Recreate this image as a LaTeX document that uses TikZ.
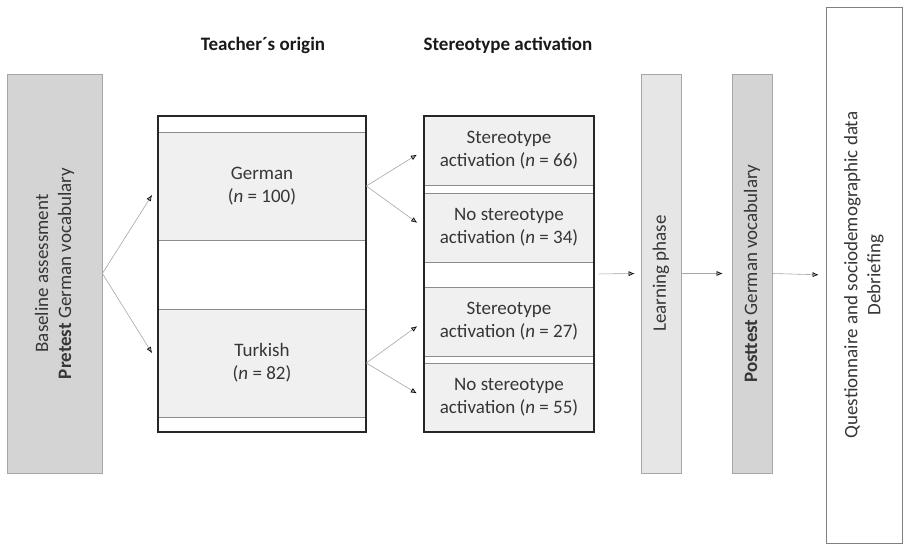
\documentclass[tikz,border=0pt]{standalone}
\usepackage{fontspec}
\setmainfont{Carlito}
\usetikzlibrary{arrows.meta}

\definecolor{basegray}{HTML}{D4D4D4}
\definecolor{learngray}{HTML}{E6E6E6}
\definecolor{cellgray}{HTML}{F0F0F0}
\definecolor{edgegray}{HTML}{A6A6A6}
\definecolor{cellline}{HTML}{8C8C8C}
\definecolor{framedark}{HTML}{262626}
\definecolor{textgray}{HTML}{363636}

\begin{document}
\begin{tikzpicture}[x=1pt, y=-1pt, >={Latex[length=6pt,width=5pt,color=black]},
	font=\fontsize{19}{23}\selectfont,
	phase/.style={draw=edgegray, line width=0.8pt, inner sep=0pt},
	cell/.style={draw=cellline, fill=cellgray, line width=0.7pt, inner sep=0pt, text=textgray, align=center},
	frame/.style={draw=framedark, line width=1.6pt, inner sep=0pt},
	vtext/.style={rotate=90, align=center, text=textgray},
	heading/.style={font=\fontsize{19}{23}\selectfont\bfseries, text=black!90},
	link/.style={color=edgegray, line width=0.6pt}]
	\useasboundingbox (0,0) rectangle (904,545);

	% Phases {base, learn, post, quest}
	\node [phase, fill=basegray, minimum width=95, minimum height=399]	(base)	at (54.5,273.5)	{};
	\node [phase, fill=learngray, minimum width=40, minimum height=399]	(learn)	at (661,273.5)	{};
	\node [phase, fill=basegray, minimum width=40, minimum height=399]	(post)	at (752,273.5)	{};
	\node [phase, draw=gray, minimum width=76, minimum height=536]		(quest)	at (864,275)	{};

	\node [vtext]	(baselabel)		at (base)	{Baseline assessment\\\textbf{Pretest} German vocabulary};
	\node [vtext]	(learnlabel)	at (learn)	{Learning phase};
	\node [vtext]	(postlabel)		at (post)	{\textbf{Posttest} German vocabulary};
	\node [vtext]	(questlabel)	at (quest)	{Questionnaire and sociodemographic data\\Debriefing};

	% Teacher's origin
	\node [heading]	(origin)	at (263,45)	{Teacher´s origin};
	\node [cell, minimum width=208, minimum height=108]	(german)	at (262,186)	{German\\(\textit{n} = 100)};
	\node [cell, minimum width=208, minimum height=108]	(turkish)	at (262,363)	{Turkish\\(\textit{n} = 82)};
	\node [frame, minimum width=208, minimum height=316]	(teacher)	at (262,274)	{};

	% Stereotype activation
	\node [heading]	(activ)	at (508,45)	{Stereotype activation};
	\node [cell, minimum width=170, minimum height=69]	(s1)	at (509,150.5)	{Stereotype\\activation (\textit{n} = 66)};
	\node [cell, minimum width=170, minimum height=69]	(s2)	at (509,227.5)	{No stereotype\\activation (\textit{n} = 34)};
	\node [cell, minimum width=170, minimum height=69]	(s3)	at (509,321.5)	{Stereotype\\activation (\textit{n} = 27)};
	\node [cell, minimum width=170, minimum height=69]	(s4)	at (509,397.5)	{No stereotype\\activation (\textit{n} = 55)};
	\node [frame, minimum width=170, minimum height=316]	(stereo)	at (509,274)	{};

	\coordinate (gin) at (152,195);
	\coordinate (tin) at (152,353);

	% Paths
	\path [->, link]	(base.east)		edge	(gin)	edge	(tin);
	\path [->, link, shorten >=8pt]	(german.east)	edge	(s1.west)	edge	(s2.west);
	\path [->, link, shorten >=8pt]	(turkish.east)	edge	(s3.west)	edge	(s4.west);
	\path [->, link, shorten <=4pt, shorten >=6pt]	(stereo.east)	edge	(learn.west);
	\path [->, link, shorten >=9pt]	(learn.east)	edge	(post.west);
	\path [->, link, shorten >=7pt]	(post.east)		edge	(quest.west);

\end{tikzpicture}
\end{document}
